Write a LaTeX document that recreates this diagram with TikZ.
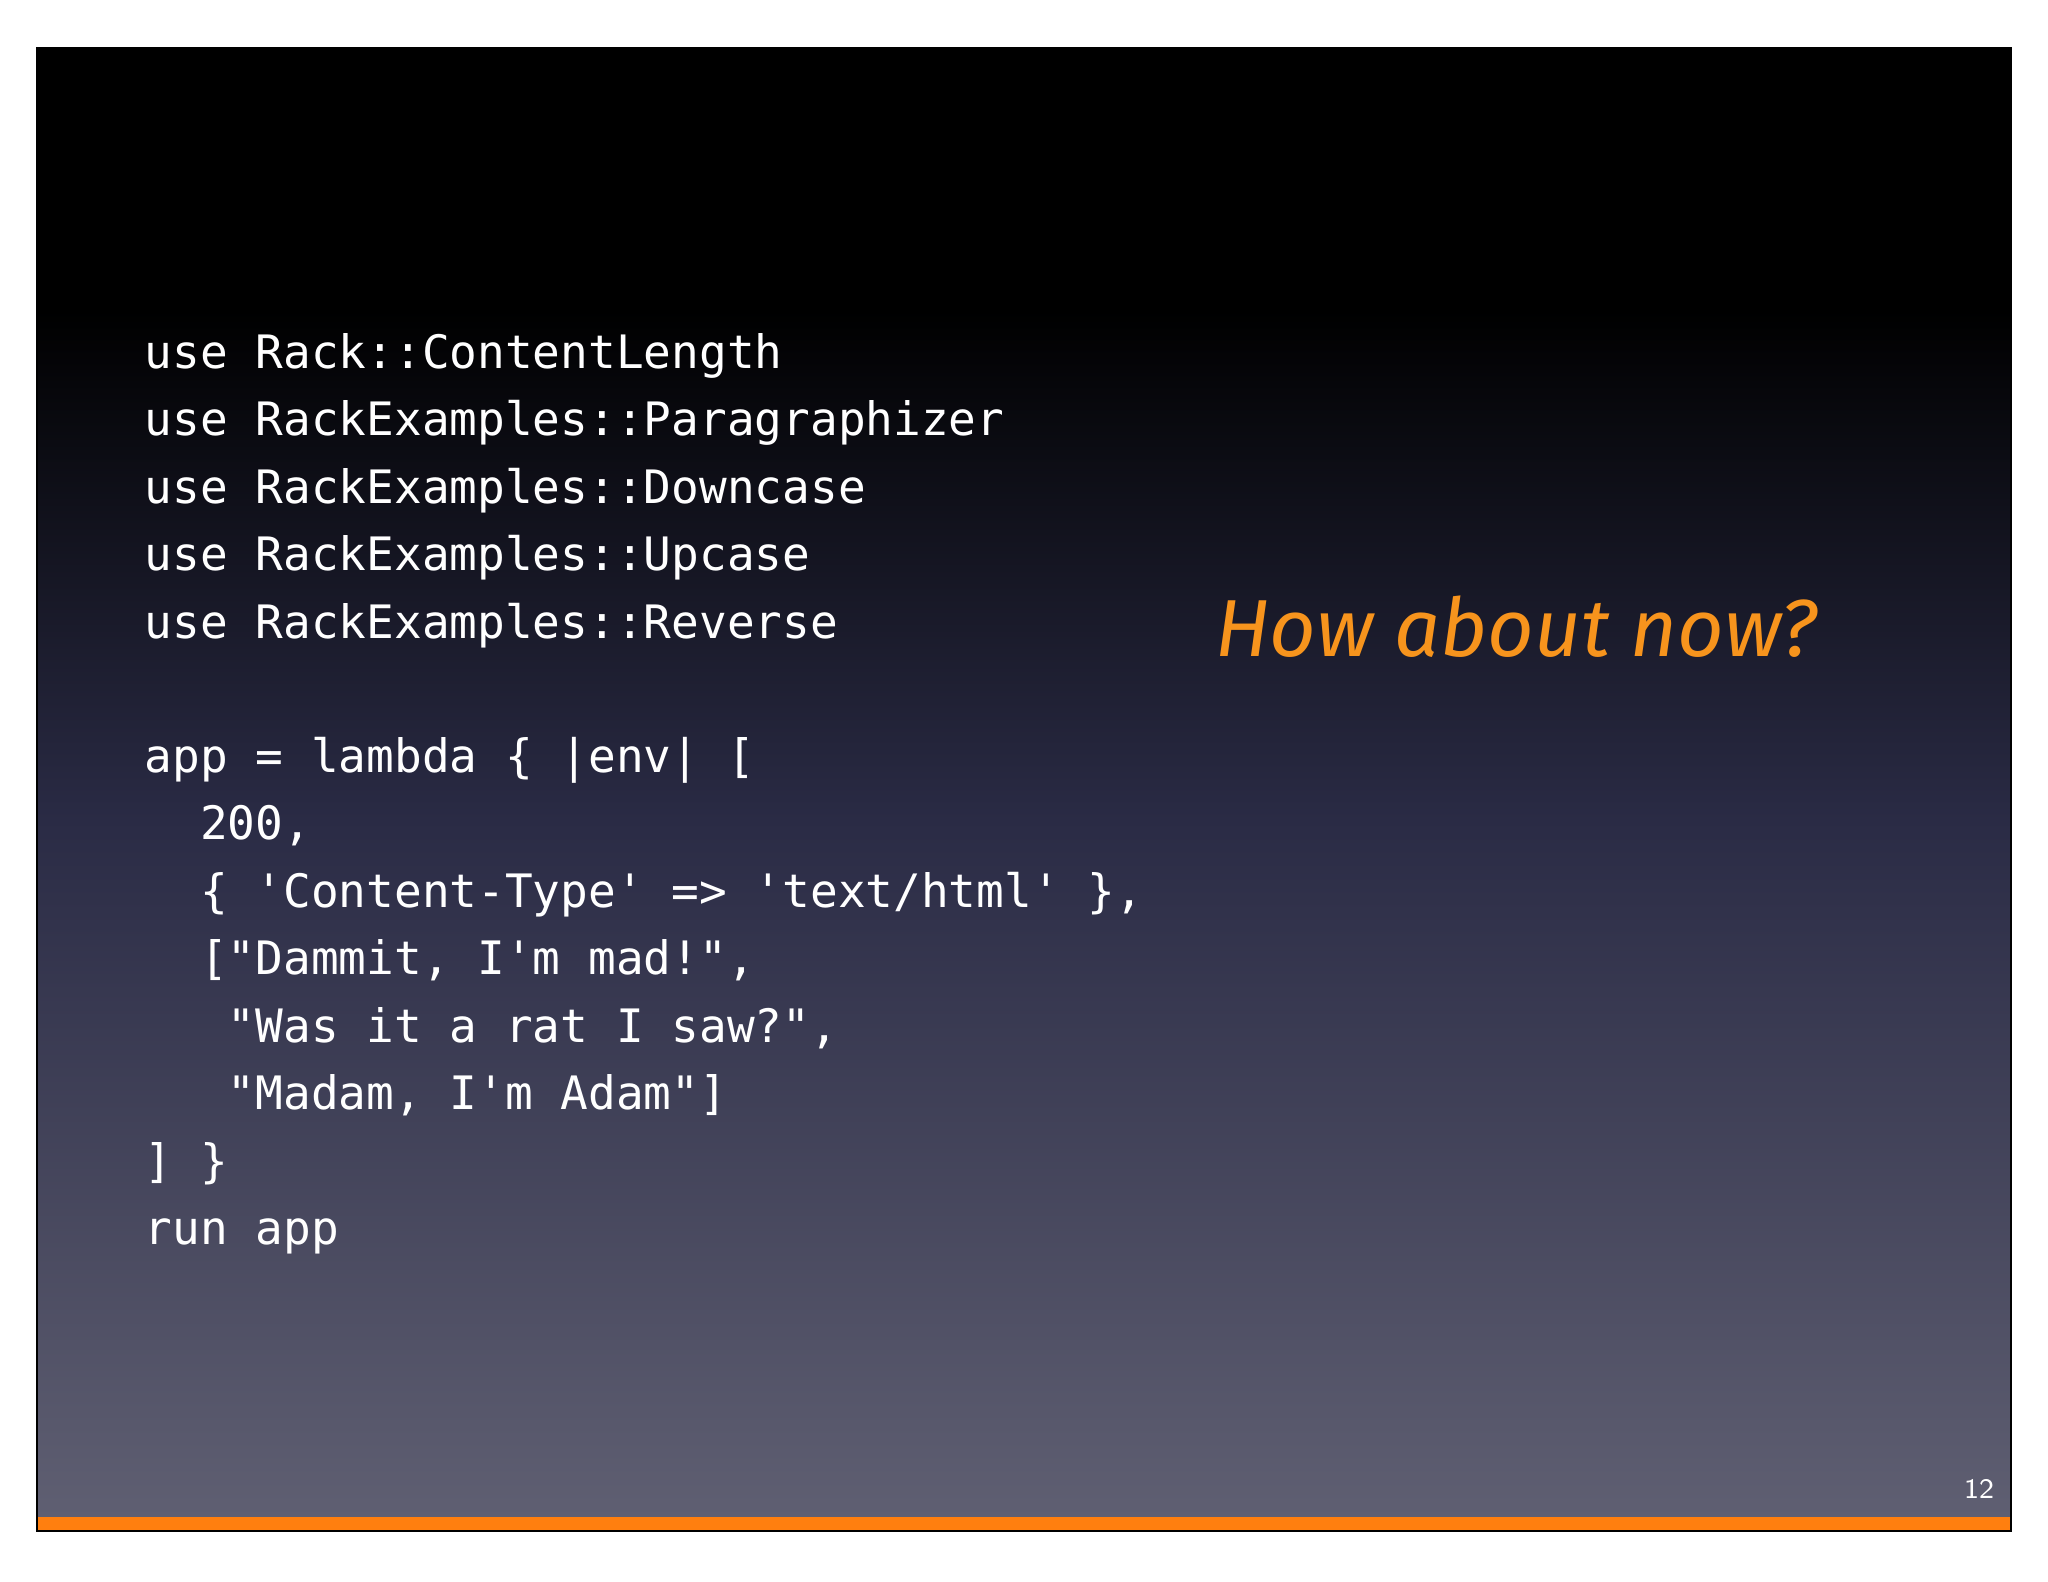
\documentclass[tikz,border=0pt]{standalone}
\usepackage{fontspec}
\setmonofont{DejaVu Sans Mono}
\newfontfamily\handfont{Fira Sans}
\definecolor{slidebot}{HTML}{5F5F72}
\definecolor{slidemid}{HTML}{2A2B45}
\definecolor{hand}{HTML}{F7941D}
\definecolor{bar}{HTML}{FF7F0F}
\begin{document}
\begin{tikzpicture}[x=0.01cm,y=-0.01cm,
  code/.style={anchor=base west,text=white,font=\ttfamily\fontsize{13.1}{15}\selectfont,inner sep=0}]
\useasboundingbox (0,0) rectangle (2048,1582);
\fill[white] (0,0) rectangle (2048,1582);
\fill[black] (37,48) rectangle (2011,311);
\shade[top color=black,bottom color=slidemid] (37,310) rectangle (2011,820);
\shade[top color=slidemid,bottom color=slidebot] (37,819) rectangle (2011,1518);
\fill[bar] (37,1517) rectangle (2011,1531);
\draw[black,line width=0.8pt] (37,48) rectangle (2011,1531);
\node[code] (l1) at (144,368) {use Rack::ContentLength};
\node[code] (l2) at (144,435) {use RackExamples::Paragraphizer};
\node[code] (l3) at (144,503) {use RackExamples::Downcase};
\node[code] (l4) at (144,570) {use RackExamples::Upcase};
\node[code] (l5) at (144,638) {use RackExamples::Reverse};
\node[code] (l6) at (144,772) {app = lambda \{ |env| [};
\node[code] (l7) at (144,839) {\ \ 200,};
\node[code] (l8) at (144,907) {\ \ \{ 'Content-Type' => 'text/html' \},};
\node[code] (l9) at (144,974) {\ \ ["Dammit, I'm mad!",};
\node[code] (l10) at (144,1042) {\ \ \ "Was it a rat I saw?",};
\node[code] (l11) at (144,1109) {\ \ \ "Madam, I'm Adam"]};
\node[code] (l12) at (144,1177) {] \}};
\node[code] (l13) at (144,1244) {run app};
\node[text=hand,font=\handfont\itshape\fontsize{23}{26}\selectfont] (how) at (1516,627) {How about now?};
\node[text=white,font=\sffamily\fontsize{8}{10}\selectfont] (pn) at (1979,1489) {12};
\end{tikzpicture}
\end{document}
